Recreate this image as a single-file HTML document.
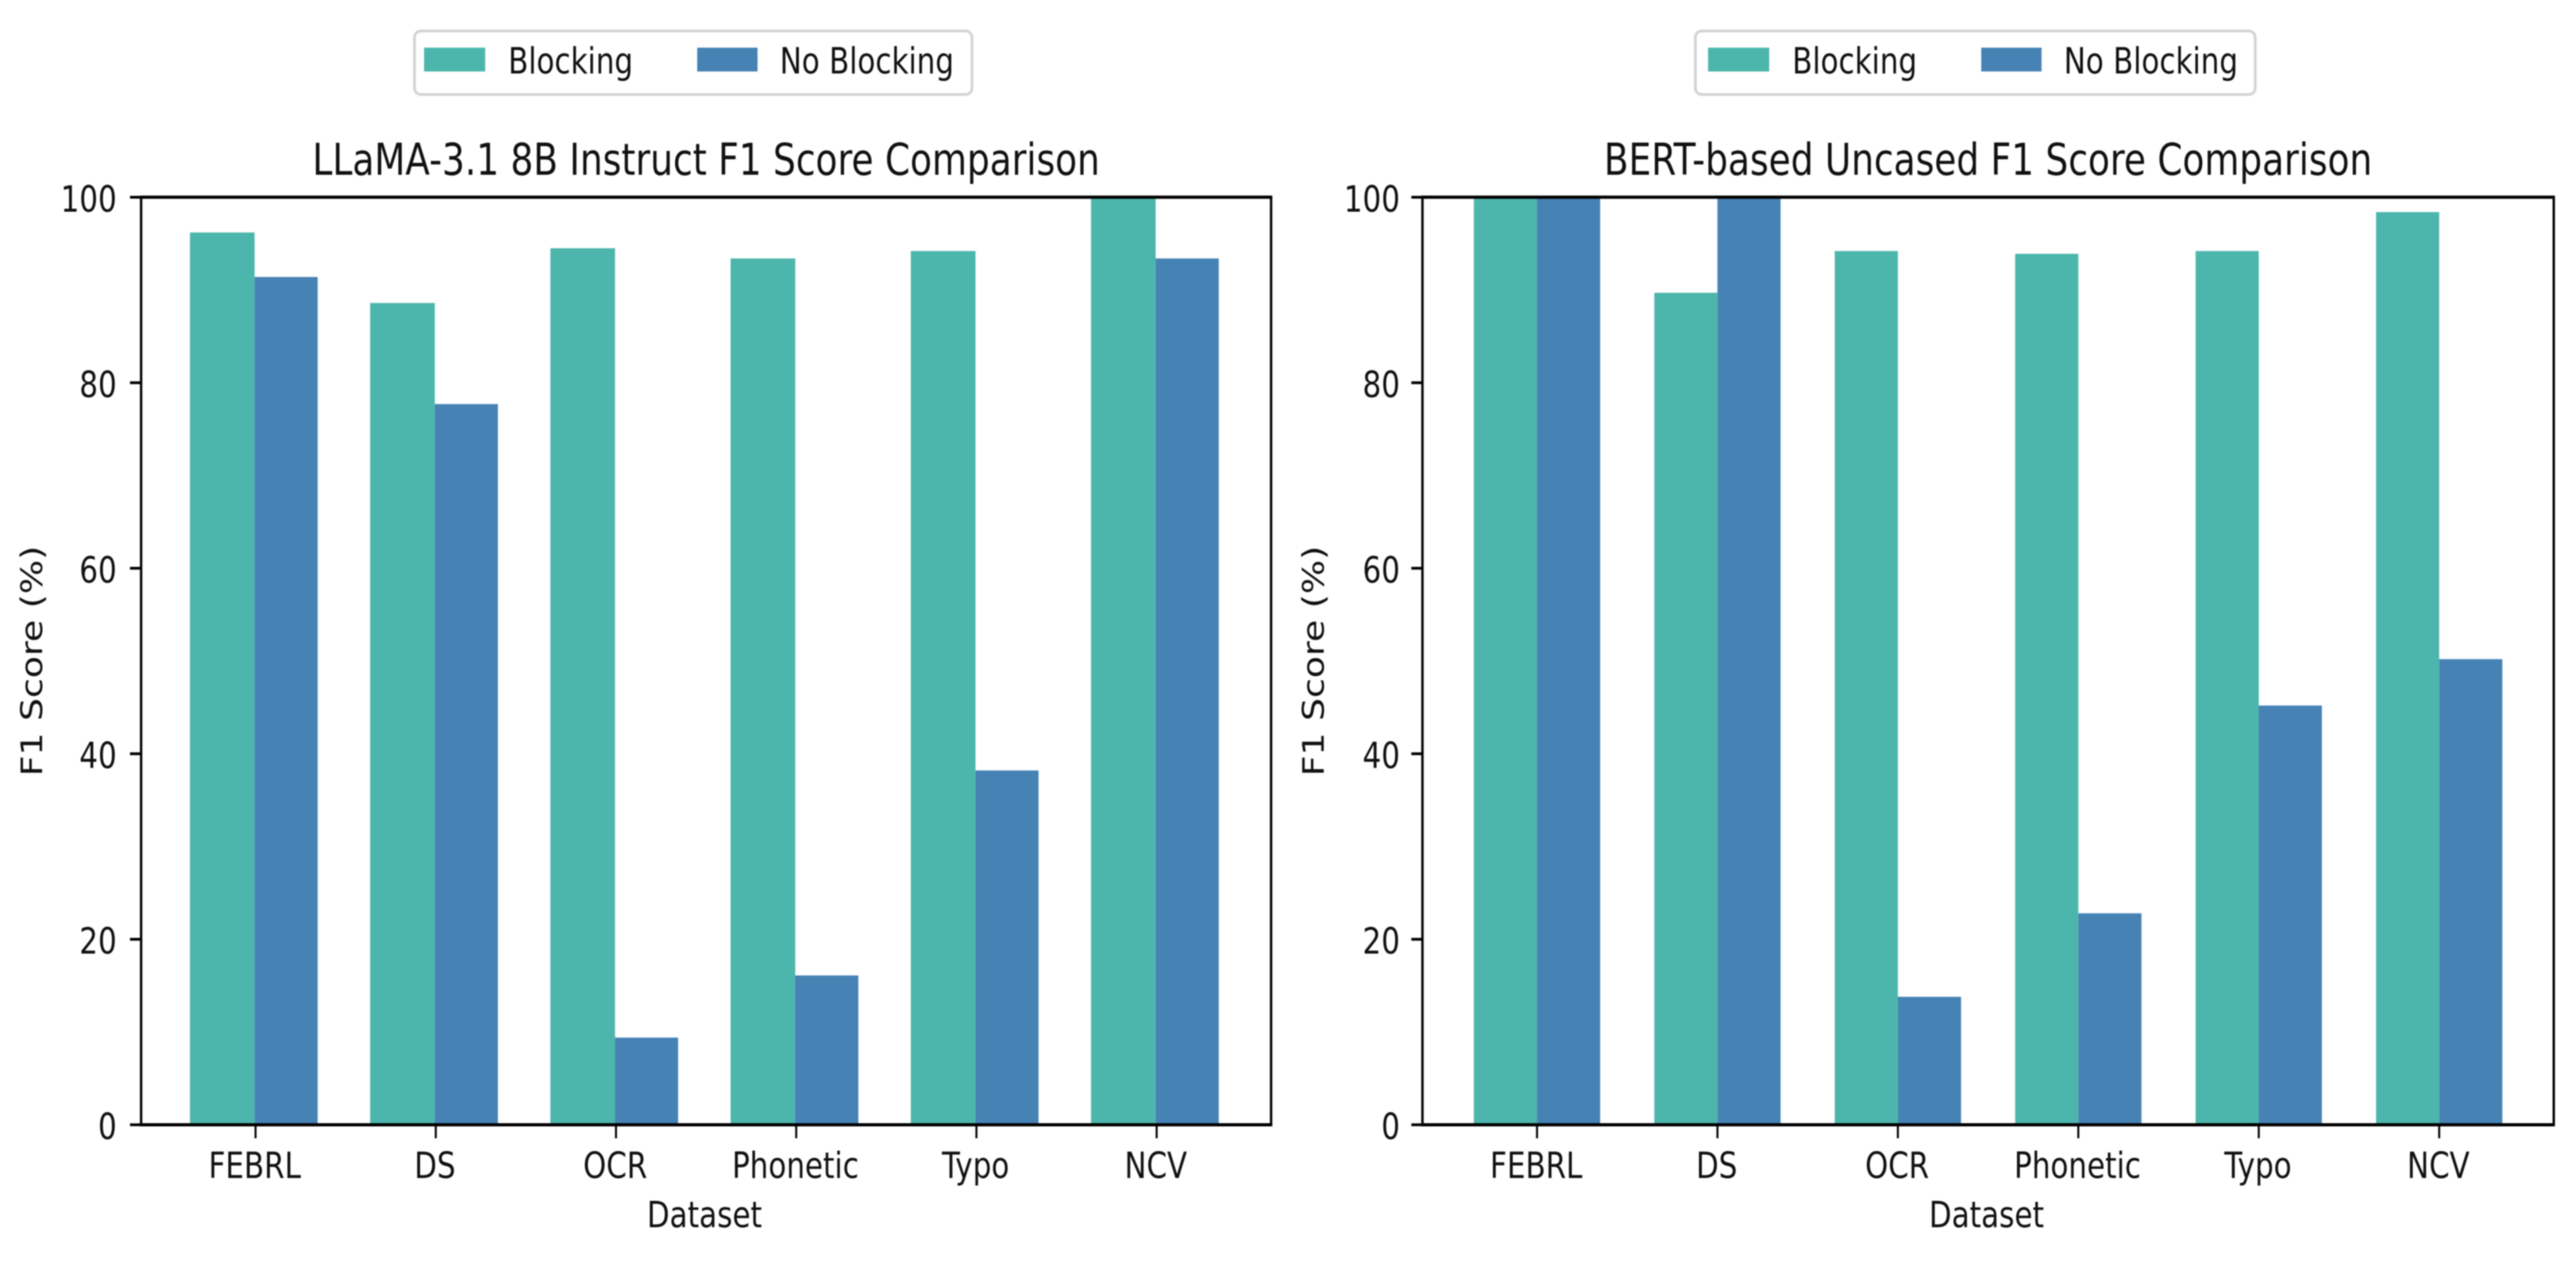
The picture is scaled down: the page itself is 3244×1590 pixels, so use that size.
<!DOCTYPE html>
<html lang="en">
<head>
<meta charset="utf-8">
<title>F1 Score Comparison</title>
<style>
  html, body { margin: 0; padding: 0; background: #fff; }
  #figure { display: block; width: 3244px; height: 1590px; filter: blur(0.7px); }
  text { font-family: "DejaVu Sans", "Liberation Sans", sans-serif; fill: #111; }
</style>
</head>
<body>
<svg id="figure" xmlns="http://www.w3.org/2000/svg" width="3244" height="1590" viewBox="0 0 3244 1590"></svg>
<script>
const categories = ['FEBRL', 'DS', 'OCR', 'Phonetic', 'Typo', 'NCV'];
const seriesNames = ['Blocking', 'No Blocking'];
const yTicks = [0, 20, 40, 60, 80, 100];
const llamaBlocking = [96.2, 88.6, 94.5, 93.4, 94.2, 100];
const llamaNoBlocking = [91.4, 77.7, 9.4, 16.1, 38.2, 93.4];
const bertBlocking = [100, 89.7, 94.2, 93.9, 94.2, 98.4];
const bertNoBlocking = [100, 100, 13.8, 22.8, 45.2, 50.2];

const NS = 'http://www.w3.org/2000/svg';
const svg = document.getElementById('figure');
const TEAL = '#4db6ac';
const BLUE = '#4682b4';
const STRETCH = 1.23;
const TICK_FONT = 37;
const TITLE_FONT = 45.2;
const BAR_WIDTH = 0.35;

function make(parent, tag, attrs) {
  const el = document.createElementNS(NS, tag);
  for (const k in attrs) el.setAttribute(k, attrs[k]);
  parent.appendChild(el);
  return el;
}

function label(parent, str, x, y, size, anchor, rotate) {
  const t = 'translate(' + x + ' ' + y + ') scale(1 ' + STRETCH + ')' + (rotate ? ' rotate(-90)' : '');
  const el = make(parent, 'text', { transform: t, 'font-size': size, 'text-anchor': anchor });
  el.textContent = str;
  return el;
}

function drawChart(cfg) {
  const g = make(svg, 'g', {});
  
  

  const unitsLeft = BAR_WIDTH + 0.05 * (categories.length - 1 + 2 * BAR_WIDTH);
  const unitsTotal = (categories.length - 1 + 2 * BAR_WIDTH) * 1.1;
  const xScale = i => cfg.left + (i + unitsLeft) * (cfg.right - cfg.left) / unitsTotal;
  const yScale = v => cfg.bottom - v * (cfg.bottom - cfg.top) / 100;
  const unit = (cfg.right - cfg.left) / unitsTotal;

  // bars
  categories.forEach((cat, i) => {
    const mid = xScale(i) + cfg.barShift;
    const w = BAR_WIDTH * unit;
    const a = make(g, 'rect', { x: mid - w - cfg.tealExtra, y: yScale(cfg.blocking[i]), width: w + cfg.tealExtra, height: cfg.bottom - yScale(cfg.blocking[i]), fill: TEAL });
    
    
    const b = make(g, 'rect', { x: mid, y: yScale(cfg.noBlocking[i]), width: w, height: cfg.bottom - yScale(cfg.noBlocking[i]), fill: BLUE });
    
    
  });

  // y ticks
  yTicks.forEach(v => {
    const y = yScale(v);
    const tick = make(g, 'line', { x1: cfg.left - 14, x2: cfg.left, y1: y, y2: y, stroke: '#000', 'stroke-width': 3.5 });
    
    
    const txt = label(g, String(v), cfg.yLabelX, y + 18, TICK_FONT, 'end', false);
    
    
  });

  // x ticks
  categories.forEach((cat, i) => {
    const x = xScale(i);
    const tick = make(g, 'line', { x1: x, x2: x, y1: cfg.bottom, y2: cfg.bottom + 17, stroke: '#000', 'stroke-width': 2.5 });
    
    
    const txt = label(g, cat, x - 1, 1483, TICK_FONT, 'middle', false);
    
    
  });

  // spines
  const spines = [
    ['left', cfg.left, cfg.top, cfg.left, cfg.bottom, 3],
    ['right', cfg.right, cfg.top, cfg.right, cfg.bottom, 3],
    ['top', cfg.left - 1.5, cfg.top, cfg.right + 1.5, cfg.top, 4],
    ['bottom', cfg.left - 1.5, cfg.bottom, cfg.right + 1.5, cfg.bottom, 4]
  ];
  spines.forEach(s => {
    const line = make(g, 'line', { x1: s[1], y1: s[2], x2: s[3], y2: s[4], stroke: '#000', 'stroke-width': s[5] });
    
    
  });

  // titles
  const center = (cfg.left + cfg.right) / 2;
  const title = label(g, cfg.title, center, 220, TITLE_FONT, 'middle', false);
  
  
  const xTitle = label(g, 'Dataset', center - 2, 1545, TICK_FONT, 'middle', false);
  
  
  const yTitle = label(g, 'F1 Score (%)', cfg.yTitleX, (cfg.top + cfg.bottom) / 2, TICK_FONT, 'middle', true);
  
  

  // legend
  const o = cfg.legendX;
  const c = o + cfg.legendShift;
  const legend = make(g, 'g', {});
  
  
  const box = make(legend, 'rect', { x: o, y: 39, width: cfg.legendW, height: 80, rx: 8, ry: 8, fill: '#fff', stroke: '#d4d4d4', 'stroke-width': 3.5 });
  
  
  const h1 = make(legend, 'rect', { x: c + 12, y: 60, width: 77, height: 30, fill: TEAL });
  
  
  const t1 = label(legend, seriesNames[0], c + 118, 92.5, TICK_FONT, 'start', false);
  
  
  const h2 = make(legend, 'rect', { x: c + 356, y: 60, width: 76, height: 30, fill: BLUE });
  
  
  const t2 = label(legend, seriesNames[1], c + 460, 92.5, TICK_FONT, 'start', false);
  
  
}

drawChart({ id: 'llama', title: 'LLaMA-3.1 8B Instruct F1 Score Comparison', blocking: llamaBlocking, noBlocking: llamaNoBlocking,
  left: 177.7, right: 1600.7, top: 248.3, bottom: 1416, yLabelX: 147, yTitleX: 53, legendX: 522, legendW: 702, legendShift: 0, barShift: -1.2, tealExtra: 2 });
drawChart({ id: 'bert', title: 'BERT-based Uncased F1 Score Comparison', blocking: bertBlocking, noBlocking: bertNoBlocking,
  left: 1791.3, right: 3216, top: 248.3, bottom: 1416, yLabelX: 1763, yTitleX: 1667, legendX: 2135, legendW: 705, legendShift: 4, barShift: 0, tealExtra: 0 });
</script>
</body>
</html>
